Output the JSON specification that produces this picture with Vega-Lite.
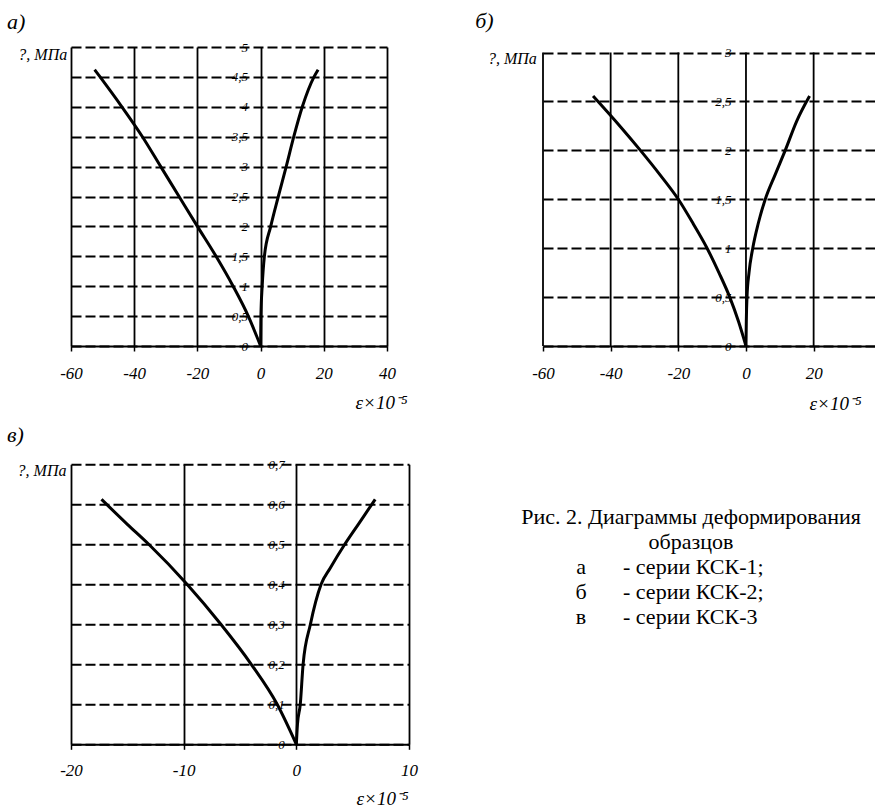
{
  "$schema": "https://vega.github.io/schema/vega-lite/v6.json",
  "usermeta": {"embedOptions": {"actions": false}},
  "background": "white",
  "padding": {"left": 7, "top": 10, "right": 0, "bottom": 0},
  "config": {
    "font": "Liberation Serif",
    "view": {"stroke": null},
    "axis": {"labelFont": "Liberation Serif", "titleFont": "Liberation Serif", "labelColor": "black", "titleColor": "black", "labelFontStyle": "italic", "titleFontStyle": "italic", "titleFontWeight": "normal", "gridColor": "black", "gridOpacity": 1, "domainColor": "black", "tickColor": "black", "labelOverlap": false, "labelFlush": false},
    "axisX": {"grid": true, "gridWidth": 1.8, "domainWidth": 2, "tickSize": 5, "tickWidth": 1.5, "labelFontSize": 17, "labelBaseline": "alphabetic", "labelPadding": 27, "titleFontSize": 19, "titleAlign": "right", "titleBaseline": "alphabetic"},
    "axisY": {"grid": true, "gridWidth": 2, "gridDash": [10, 4], "domain": false, "ticks": false, "tickSize": 0, "labelFontSize": 13, "labelPadding": 13, "labelBaseline": "middle", "titleAngle": 0, "titleAlign": "right", "titleBaseline": "alphabetic", "titleFontSize": 16}
  },
  "datasets": {
    "a": [
      {"branch": "L", "eps": -52.5, "sigma": 4.62}, {"branch": "L", "eps": -50.8, "sigma": 4.5}, {"branch": "L", "eps": -43.9, "sigma": 4.0}, {"branch": "L", "eps": -37.4, "sigma": 3.5}, {"branch": "L", "eps": -31.6, "sigma": 3.0}, {"branch": "L", "eps": -25.8, "sigma": 2.5}, {"branch": "L", "eps": -20.0, "sigma": 2.0}, {"branch": "L", "eps": -14.1, "sigma": 1.5}, {"branch": "L", "eps": -8.7, "sigma": 1.0}, {"branch": "L", "eps": -3.9, "sigma": 0.5}, {"branch": "L", "eps": 0, "sigma": 0},
      {"branch": "R", "eps": 0, "sigma": 0}, {"branch": "R", "eps": 0.1, "sigma": 0.5}, {"branch": "R", "eps": 0.5, "sigma": 1.0}, {"branch": "R", "eps": 1.2, "sigma": 1.5}, {"branch": "R", "eps": 3.2, "sigma": 2.0}, {"branch": "R", "eps": 5.6, "sigma": 2.5}, {"branch": "R", "eps": 8.1, "sigma": 3.0}, {"branch": "R", "eps": 10.5, "sigma": 3.5}, {"branch": "R", "eps": 13.2, "sigma": 4.0}, {"branch": "R", "eps": 16.9, "sigma": 4.5}, {"branch": "R", "eps": 18.2, "sigma": 4.62}
    ],
    "b": [
      {"branch": "L", "eps": -45.2, "sigma": 2.556}, {"branch": "L", "eps": -37.3, "sigma": 2.25}, {"branch": "L", "eps": -31.2, "sigma": 2.0}, {"branch": "L", "eps": -25.4, "sigma": 1.75}, {"branch": "L", "eps": -20.0, "sigma": 1.5}, {"branch": "L", "eps": -15.6, "sigma": 1.25}, {"branch": "L", "eps": -11.5, "sigma": 1.0}, {"branch": "L", "eps": -8.0, "sigma": 0.75}, {"branch": "L", "eps": -4.8, "sigma": 0.5}, {"branch": "L", "eps": -2.2, "sigma": 0.25}, {"branch": "L", "eps": 0, "sigma": 0},
      {"branch": "R", "eps": 0, "sigma": 0}, {"branch": "R", "eps": 0.1, "sigma": 0.25}, {"branch": "R", "eps": 0.3, "sigma": 0.5}, {"branch": "R", "eps": 0.9, "sigma": 0.75}, {"branch": "R", "eps": 2.0, "sigma": 1.0}, {"branch": "R", "eps": 3.6, "sigma": 1.25}, {"branch": "R", "eps": 5.7, "sigma": 1.5}, {"branch": "R", "eps": 8.6, "sigma": 1.75}, {"branch": "R", "eps": 11.6, "sigma": 2.0}, {"branch": "R", "eps": 15.0, "sigma": 2.3}, {"branch": "R", "eps": 18.8, "sigma": 2.556}
    ],
    "c": [
      {"branch": "L", "eps": -17.3, "sigma": 0.6125}, {"branch": "L", "eps": -15.0, "sigma": 0.55}, {"branch": "L", "eps": -13.1, "sigma": 0.5}, {"branch": "L", "eps": -9.7, "sigma": 0.4}, {"branch": "L", "eps": -6.7, "sigma": 0.3}, {"branch": "L", "eps": -4.0, "sigma": 0.2}, {"branch": "L", "eps": -1.7, "sigma": 0.1}, {"branch": "L", "eps": 0, "sigma": 0},
      {"branch": "R", "eps": 0, "sigma": 0}, {"branch": "R", "eps": 0.1, "sigma": 0.05}, {"branch": "R", "eps": 0.35, "sigma": 0.1}, {"branch": "R", "eps": 0.6, "sigma": 0.2}, {"branch": "R", "eps": 1.25, "sigma": 0.3}, {"branch": "R", "eps": 2.2, "sigma": 0.4}, {"branch": "R", "eps": 3.0, "sigma": 0.44}, {"branch": "R", "eps": 4.3, "sigma": 0.5}, {"branch": "R", "eps": 5.5, "sigma": 0.55}, {"branch": "R", "eps": 6.7, "sigma": 0.6}, {"branch": "R", "eps": 7.0, "sigma": 0.6125}
    ],
    "bgrid": [{"eps": -60}, {"eps": -40}, {"eps": -20}, {"eps": 0}, {"eps": 20}],
    "cap": [
      {"n": 1, "part": "h", "txt": "Рис. 2. Диаграммы деформирования"},
      {"n": 2, "part": "h", "txt": "образцов"},
      {"n": 3, "part": "k", "txt": "а"},
      {"n": 3, "part": "d", "txt": "- серии КСК-1;"},
      {"n": 4, "part": "k", "txt": "б"},
      {"n": 4, "part": "d", "txt": "- серии КСК-2;"},
      {"n": 5, "part": "k", "txt": "в"},
      {"n": 5, "part": "d", "txt": "- серии КСК-3"}
    ]
  },
  "columns": 2,
  "spacing": {"row": 118.3, "column": 134},
  "bounds": "flush",
  "align": "each",
  "concat": [
    {
      "width": 316,
      "height": 299,
      "title": {"text": "а)", "anchor": "start", "frame": "group", "dx": -64, "offset": -9.5, "fontSize": 22, "fontStyle": "italic", "fontWeight": "normal", "font": "Liberation Serif", "baseline": "alphabetic", "color": "black"},
      "data": {"name": "a"},
      "mark": {"type": "line", "color": "black", "strokeWidth": 3, "interpolate": "monotone"},
      "encoding": {
        "x": {"field": "eps", "type": "quantitative", "scale": {"domain": [-60, 40], "nice": false, "zero": false},
          "axis": {"values": [-60, -40, -20, 0, 20, 40], "labelExpr": "'' + datum.value", "title": "ε×10⁻⁵", "titleX": 336, "titleY": 62}},
        "y": {"field": "sigma", "type": "quantitative", "scale": {"domain": [0, 5], "nice": false, "zero": false},
          "axis": {"values": [0, 0.5, 1, 1.5, 2, 2.5, 3, 3.5, 4, 4.5, 5], "labelExpr": "replace('' + datum.value, '.', ',')", "offset": -189.6, "labelPadding": 13, "title": "?, МПа", "titleX": -193.9, "titleY": 12.5}},
        "detail": {"field": "branch"}
      }
    },
    {
      "width": 332,
      "height": 299,
      "title": {"text": "б)", "anchor": "start", "frame": "group", "dx": -67.7, "offset": -3.6, "fontSize": 22, "fontStyle": "italic", "fontWeight": "normal", "font": "Liberation Serif", "baseline": "alphabetic", "color": "black"},
      "encoding": {
        "x": {"field": "eps", "type": "quantitative", "scale": {"domain": [-60, 38.14], "nice": false, "zero": false},
          "axis": {"values": [-60, -40, -20, 0, 20], "grid": false, "labelExpr": "'' + datum.value", "title": "ε×10⁻⁵", "titleX": 318, "titleY": 63}}
      },
      "layer": [
        {
          "data": {"name": "bgrid"},
          "mark": {"type": "rule", "color": "black", "strokeWidth": 1.8},
          "encoding": {"y": {"datum": 0, "type": "quantitative"}, "y2": {"datum": 3}}
        },
        {
          "data": {"name": "b"},
          "mark": {"type": "line", "color": "black", "strokeWidth": 3, "interpolate": "monotone"},
          "encoding": {
            "y": {"field": "sigma", "type": "quantitative", "scale": {"domain": [0, 3.057], "nice": false, "zero": false},
              "axis": {"values": [0, 0.5, 1, 1.5, 2, 2.5, 3], "labelExpr": "replace('' + datum.value, '.', ',')", "offset": -203, "labelPadding": 15, "title": "?, МПа", "titleX": -209.7, "titleY": 16}},
            "detail": {"field": "branch"}
          }
        }
      ]
    },
    {
      "width": 338,
      "height": 280,
      "title": {"text": "в)", "anchor": "start", "frame": "group", "dx": -64, "offset": -5.4, "fontSize": 22, "fontStyle": "italic", "fontWeight": "normal", "font": "Liberation Serif", "baseline": "alphabetic", "color": "black"},
      "data": {"name": "c"},
      "mark": {"type": "line", "color": "black", "strokeWidth": 3, "interpolate": "monotone"},
      "encoding": {
        "x": {"field": "eps", "type": "quantitative", "scale": {"domain": [-20, 10], "nice": false, "zero": false},
          "axis": {"values": [-20, -10, 0, 10], "labelExpr": "'' + datum.value", "labelPadding": 26, "title": "ε×10⁻⁵", "titleX": 337, "titleY": 60}},
        "y": {"field": "sigma", "type": "quantitative", "scale": {"domain": [0, 0.7], "nice": false, "zero": false},
          "axis": {"values": [0, 0.1, 0.2, 0.3, 0.4, 0.5, 0.6, 0.7], "labelExpr": "replace('' + datum.value, '.', ',')", "offset": -225.3, "labelPadding": 12, "title": "?, МПа", "titleX": -230.3, "titleY": 11.2}},
        "detail": {"field": "branch"}
      }
    },
    {
      "width": 332,
      "height": 200,
      "data": {"name": "cap"},
      "encoding": {
        "y": {"field": "n", "type": "quantitative", "scale": {"domain": [-1.108, 6.892], "reverse": true, "nice": false, "zero": false}, "axis": null}
      },
      "layer": [
        {
          "transform": [{"filter": "datum.part === 'h'"}],
          "mark": {"type": "text", "align": "center", "baseline": "middle", "font": "Liberation Serif", "fontSize": 22, "color": "black"},
          "encoding": {"x": {"datum": 0.4458, "type": "quantitative", "scale": {"domain": [0, 1], "nice": false, "zero": false}, "axis": null}, "text": {"field": "txt"}}
        },
        {
          "transform": [{"filter": "datum.part === 'k'"}],
          "mark": {"type": "text", "align": "center", "baseline": "middle", "font": "Liberation Serif", "fontSize": 22, "color": "black"},
          "encoding": {"x": {"datum": 0.1145, "type": "quantitative"}, "text": {"field": "txt"}}
        },
        {
          "transform": [{"filter": "datum.part === 'd'"}],
          "mark": {"type": "text", "align": "left", "baseline": "middle", "font": "Liberation Serif", "fontSize": 22, "color": "black"},
          "encoding": {"x": {"datum": 0.241, "type": "quantitative"}, "text": {"field": "txt"}}
        }
      ]
    }
  ]
}
